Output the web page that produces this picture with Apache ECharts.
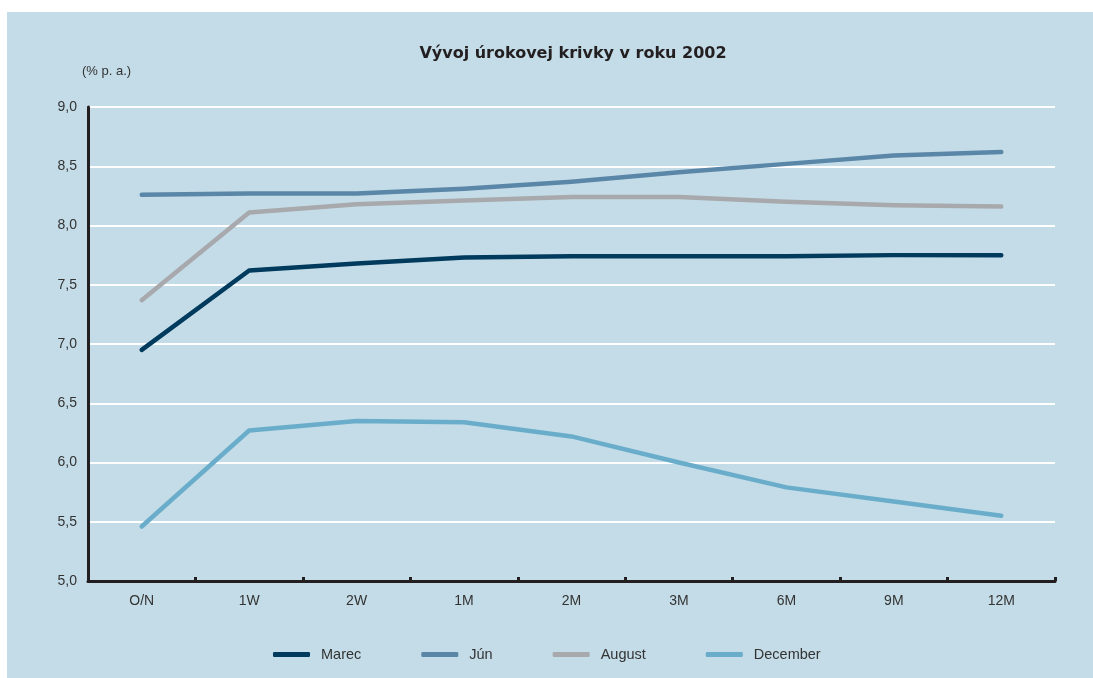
<!DOCTYPE html>
<html>
<head>
<meta charset="utf-8">
<script src="https://cdn.jsdelivr.net/npm/echarts@6/dist/echarts.min.js"></script>
<style>
  html, body { margin: 0; padding: 0; background: #ffffff; }
  #panel { position: absolute; left: 7px; top: 12px; width: 1086px; height: 666px; background: #c4dce7; }
  #chart { position: absolute; left: 0; top: 0; width: 1093px; height: 678px; }
</style>
</head>
<body>
<div id="panel"></div>
<div id="chart"></div>
<script>
// Maturities on the yield curve
const categories = ['O/N', '1W', '2W', '1M', '2M', '3M', '6M', '9M', '12M'];

// Interest rates (% p. a.) for each month
const marec    = [6.95, 7.62, 7.68, 7.73, 7.74, 7.74, 7.74, 7.75, 7.75];
const jun      = [8.26, 8.27, 8.27, 8.31, 8.37, 8.45, 8.52, 8.59, 8.62];
const august   = [7.37, 8.11, 8.18, 8.21, 8.24, 8.24, 8.20, 8.17, 8.16];
const december = [5.46, 6.27, 6.35, 6.34, 6.22, 6.00, 5.79, 5.67, 5.55];

const seriesNames = ['Marec', 'Jún', 'August', 'December'];
const seriesData = [marec, jun, august, december];
const colors = ['#003a5d', '#5a87a8', '#a7a9ac', '#6aadcb'];

const font = '"Liberation Sans", Arial, Helvetica, sans-serif';
const chart = echarts.init(document.getElementById('chart'), null, { renderer: 'canvas' });

chart.setOption({
  backgroundColor: 'transparent',
  animation: false,
  title: {
    text: 'Vývoj úrokovej krivky v roku 2002',
    left: 568,
    textAlign: 'center',
    top: 41,
    textStyle: { fontFamily: '"DejaVu Sans", sans-serif', fontWeight: 'bold', fontSize: 16, color: '#231f20' }
  },
  graphic: [{
    type: 'text',
    left: 82,
    top: 65,
    style: { text: '(% p. a.)', font: '13px ' + font, fill: '#333333' }
  }],
  legend: {
    top: 642,
    left: 268,
    itemWidth: 37,
    itemHeight: 5,
    itemGap: 60,
    icon: 'roundRect',
    textStyle: { fontFamily: font, fontSize: 14.5, color: '#333333', padding: [0, 0, 0, 6] },
    data: seriesNames
  },
  grid: { left: 88, right: 38, top: 107, bottom: 97, containLabel: false },
  xAxis: {
    type: 'category',
    data: categories,
    boundaryGap: true,
    axisLine: { lineStyle: { color: '#231f20', width: 3 } },
    axisTick: { show: true, inside: true, length: 4, lineStyle: { color: '#231f20', width: 3 } },
    axisLabel: { fontFamily: font, fontSize: 14, color: '#333333', margin: 13 },
    splitLine: { show: false }
  },
  yAxis: {
    type: 'value',
    min: 5,
    max: 9,
    interval: 0.5,
    axisLine: { show: true, lineStyle: { color: '#231f20', width: 3 } },
    axisTick: { show: false },
    axisLabel: {
      fontFamily: font, fontSize: 14, color: '#333333', margin: 11,
      formatter: v => v.toFixed(1).replace('.', ',')
    },
    splitLine: { lineStyle: { color: '#ffffff', width: 2 } }
  },
  series: seriesData.map((d, i) => ({
    name: seriesNames[i],
    type: 'line',
    data: d,
    symbol: 'none',
    color: colors[i],
    lineStyle: { width: 4.5, color: colors[i], cap: 'round', join: 'round' },
    z: 3
  }))
});
</script>
</body>
</html>
